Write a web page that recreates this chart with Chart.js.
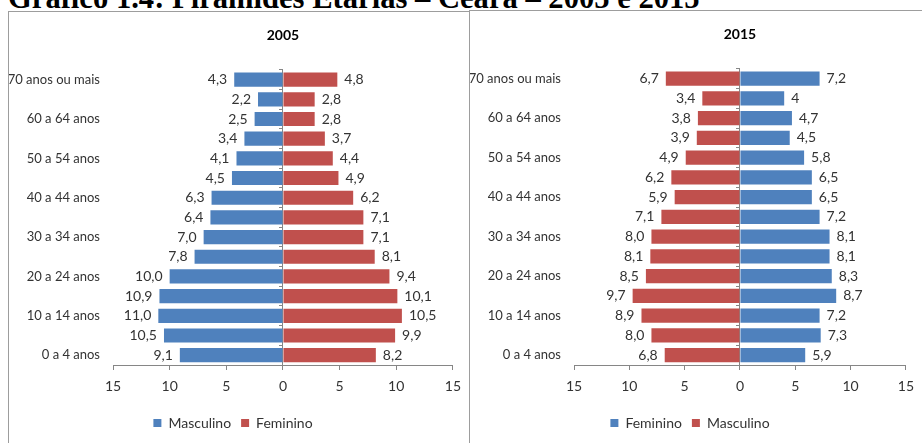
<!DOCTYPE html>
<html lang="pt-BR">
<head>
<meta charset="utf-8">
<title>Pirâmides Etárias – Ceará – 2005 e 2015</title>
<script src="https://cdn.jsdelivr.net/npm/chart.js@4.4.1/dist/chart.umd.min.js"></script>
<style>
    html, body { margin: 0; padding: 0; width: 922px; height: 443px; overflow: hidden; background: #fff; }
    .heading {
        position: absolute; left: 8px; top: -17px;
        font: bold 30.6px/30px "Liberation Serif", "Times New Roman", serif;
        white-space: nowrap; color: #000;
    }
    .panel { position: absolute; border: 1.5px solid #9d9d9d; border-bottom: none; background: #fff; }
    #panel2005 { left: 8px; top: 11px; width: 461px; height: 440px; border-right: none; }
    #panel2015 { left: 469px; top: 10px; width: 470px; height: 440px; }
    canvas { position: absolute; left: 0; top: 0; }
</style>
</head>
<body>
<div class="heading">Gráfico 1.4: Pirâmides Etárias – Ceará – 2005 e 2015</div>
<div class="panel" id="panel2005"><canvas id="chart2005" width="460" height="431"></canvas></div>
<div class="panel" id="panel2015"><canvas id="chart2015" width="452" height="432"></canvas></div>

<script>
// age groups, top of the pyramid first
const ageGroups = [
    '70 anos ou mais', '65 a 69 anos', '60 a 64 anos', '55 a 59 anos', '50 a 54 anos',
    '45 a 49 anos', '40 a 44 anos', '35 a 39 anos', '30 a 34 anos', '25 a 29 anos',
    '20 a 24 anos', '15 a 19 anos', '10 a 14 anos', '5 a 9 anos', '0 a 4 anos'
];

// % da população
const masculino2005 = [4.3, 2.2, 2.5, 3.4, 4.1, 4.5, 6.3, 6.4, 7.0, 7.8, 10.0, 10.9, 11.0, 10.5, 9.1];
const feminino2005  = [4.8, 2.8, 2.8, 3.7, 4.4, 4.9, 6.2, 7.1, 7.1, 8.1, 9.4, 10.1, 10.5, 9.9, 8.2];
const masculino2015 = [6.7, 3.4, 3.8, 3.9, 4.9, 6.2, 5.9, 7.1, 8.0, 8.1, 8.5, 9.7, 8.9, 8.0, 6.8];
const feminino2015  = [7.2, 4, 4.7, 4.5, 5.8, 6.5, 6.5, 7.2, 8.1, 8.1, 8.3, 8.7, 7.2, 7.3, 5.9];

const axisMin = -15;
const axisMax = 15;
const axisStep = 5;

const FONT = 'Lato, "Open Sans", sans-serif';
const TEXT = '#333333';
const AXIS = '#868686';
const BLUE = '#4F81BD';
const RED = '#C0504D';

const oneDecimal = v => v.toFixed(1).replace('.', ',');
const general = v => String(v).replace('.', ',');

// value labels next to the bar ends
const barLabels = {
    id: 'barLabels',
    afterDatasetsDraw(chart) {
        const ctx = chart.ctx;
        ctx.save();
        ctx.font = `14px ${FONT}`;
        ctx.fillStyle = TEXT;
        ctx.textBaseline = 'middle';
        chart.data.datasets.forEach((ds, di) => {
            chart.getDatasetMeta(di).data.forEach((bar, i) => {
                const v = ds.data[i];
                const onLeft = v < 0;
                ctx.textAlign = onLeft ? 'right' : 'left';
                ctx.fillText(ds.valueFormat(Math.abs(v)), bar.x + (onLeft ? -7 : 7), bar.y);
            });
        });
        ctx.restore();
    }
};

// side: -1 draws the series to the left of zero
function makePyramid(canvasId, year, seriesList) {
    const datasets = seriesList.map(s => ({
        label: s.label,
        data: s.side < 0 ? s.values.map(v => -v) : s.values,
        backgroundColor: s.color,
        borderWidth: 0,
        categoryPercentage: 1,
        barPercentage: 0.72,
        valueFormat: s.format,
        xAxisID: 'x',
        yAxisID: 'y'
    }));

    return new Chart(document.getElementById(canvasId), {
        type: 'bar',
        data: { labels: ageGroups, datasets },
        plugins: [barLabels],
        options: {
            indexAxis: 'y',
            responsive: false,
            animation: false,
            layout: { padding: { left: 0, right: 12, top: 0, bottom: 3 } },
            scales: {
                x: {
                    stacked: true,
                    min: axisMin,
                    max: axisMax,
                    ticks: {
                        stepSize: axisStep,
                        padding: 8,
                        color: TEXT,
                        font: { family: FONT, size: 14 },
                        callback: v => Math.abs(v)
                    },
                    grid: { drawOnChartArea: false, tickLength: 5, color: AXIS },
                    border: { color: AXIS },
                    afterFit: scale => { scale.height = 41; }
                },
                y: {
                    stacked: true,
                    ticks: {
                        autoSkip: false,
                        padding: 13,
                        color: TEXT,
                        font: { family: FONT, size: 13 },
                        callback: (v, i) => (i % 2 === 0 ? ageGroups[i] : '')
                    },
                    grid: { display: false, drawTicks: false },
                    border: { display: false },
                    afterFit: scale => { scale.width = 104; }
                },
                // vertical axis crossing at zero
                yZero: {
                    axis: 'y',
                    type: 'category',
                    position: { x: 0 },
                    ticks: { display: false },
                    grid: { drawOnChartArea: false, tickLength: 3, color: AXIS },
                    border: { color: AXIS }
                }
            },
            plugins: {
                title: {
                    display: true,
                    text: year,
                    fullSize: false,
                    color: '#000',
                    font: { family: FONT, size: 14, weight: 'bold' },
                    padding: { top: 15, bottom: 26 }
                },
                legend: {
                    position: 'bottom',
                    labels: {
                        boxWidth: 8,
                        boxHeight: 8,
                        padding: 10,
                        color: TEXT,
                        font: { family: FONT, size: 14 }
                    }
                },
                tooltip: { enabled: false }
            }
        }
    });
}

makePyramid('chart2005', '2005', [
    { label: 'Masculino', values: masculino2005, color: BLUE, side: -1, format: oneDecimal },
    { label: 'Feminino', values: feminino2005, color: RED, side: 1, format: oneDecimal }
]);

makePyramid('chart2015', '2015', [
    { label: 'Feminino', values: feminino2015, color: BLUE, side: 1, format: general },
    { label: 'Masculino', values: masculino2015, color: RED, side: -1, format: oneDecimal }
]);
</script>
</body>
</html>
